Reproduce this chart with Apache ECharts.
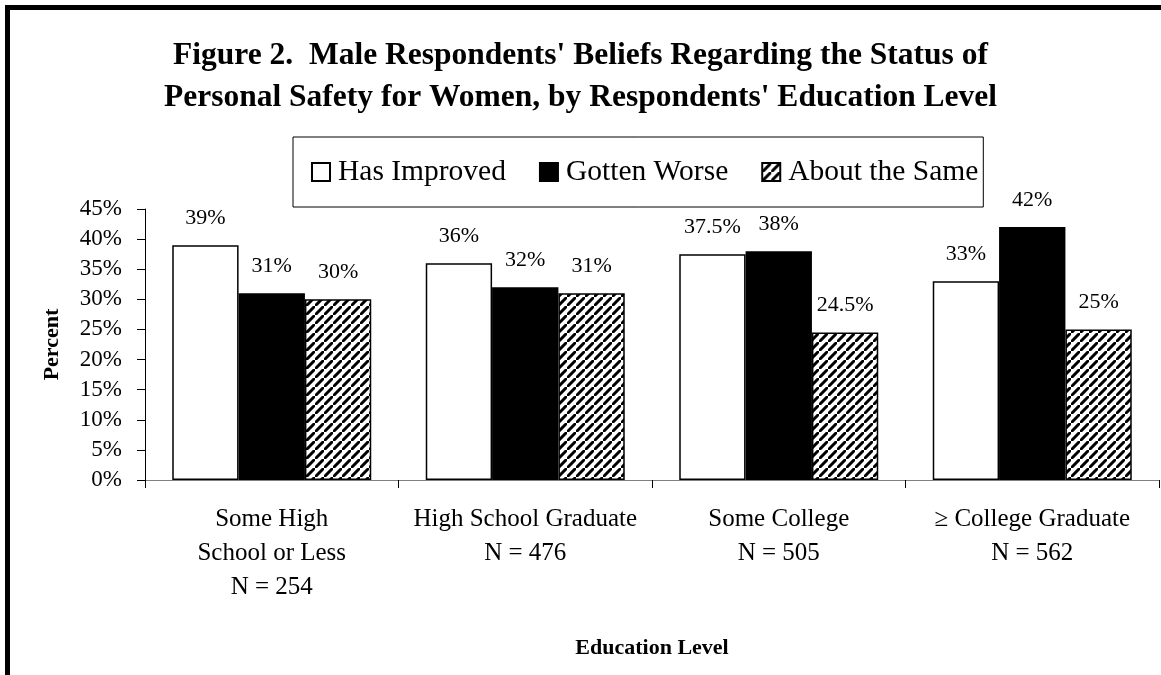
<!DOCTYPE html>
<html>
<head>
<meta charset="utf-8">
<script src="https://cdn.jsdelivr.net/npm/echarts@6/dist/echarts.min.js"></script>
<style>
html,body{margin:0;padding:0;background:#fff;}
#chart{width:1161px;height:675px;}
</style>
</head>
<body>
<div id="chart"></div>
<script>
const categories = [
  "Some High\nSchool or Less\nN = 254",
  "High School Graduate\nN = 476",
  "Some College\nN = 505",
  "\u2265 College Graduate\nN = 562"
];
const seriesNames = ["Has Improved", "Gotten Worse", "About the Same"];
const hasImproved = [39, 36, 37.5, 33];
const gottenWorse = [31, 32, 38, 42];
const aboutSame = [30, 31, 24.5, 25];
const yTicks = [0, 5, 10, 15, 20, 25, 30, 35, 40, 45];

const FONT = "'Liberation Serif', 'Times New Roman', serif";

// hatch pattern
const P = 9;
const pc = document.createElement('canvas');
pc.width = P; pc.height = P;
const pctx = pc.getContext('2d');
pctx.fillStyle = '#fff';
pctx.fillRect(0, 0, P, P);
pctx.strokeStyle = '#000';
pctx.lineWidth = 3;
pctx.beginPath();
pctx.moveTo(-2, P + 2); pctx.lineTo(P + 2, -2);
pctx.moveTo(-P - 2, 2); pctx.lineTo(2, -P - 2);
pctx.moveTo(P - 2, 2 * P + 2); pctx.lineTo(2 * P + 2, P - 2);
pctx.stroke();
const hatch = { image: pc, repeat: 'repeat' };

const chart = echarts.init(document.getElementById('chart'), null, { renderer: 'canvas' });

const labelCfg = {
  show: true,
  position: 'top',
  distance: 16,
  fontFamily: FONT,
  fontSize: 22,
  color: '#000',
  formatter: p => p.value + '%'
};

function mk(name, data, fill) {
  return {
    name: name,
    type: 'bar',
    data: data,
    barGap: '0%',
    barCategoryGap: '21.5%',
    itemStyle: { color: fill, borderColor: '#000', borderWidth: 1.5 },
    label: labelCfg,
    emphasis: { disabled: true }
  };
}

chart.setOption({
  animation: false,
  backgroundColor: '#fff',
  title: {
    text: "Figure 2.  Male Respondents' Beliefs Regarding the Status of\nPersonal Safety for Women, by Respondents' Education Level",
    left: 'center',
    top: 30,
    textStyle: {
      fontFamily: FONT,
      fontWeight: 'bold',
      fontSize: 31.5,
      lineHeight: 42,
      color: '#000'
    }
  },
  legend: {
    data: seriesNames,
    icon: 'rect',
    left: 293,
    top: 137,
    orient: 'horizontal',
    padding: [20, 5, 20, 18],
    borderColor: '#000',
    borderWidth: 1,
    itemWidth: 18,
    itemHeight: 18,
    itemGap: 33,
    selectedMode: false,
    textStyle: { fontFamily: FONT, fontSize: 29.5, color: '#000', padding: [0, 0, 0, 3] }
  },
  grid: { left: 145, right: 2, top: 209, bottom: 195, containLabel: false },
  xAxis: {
    type: 'category',
    data: categories,
    name: 'Education Level',
    nameLocation: 'middle',
    nameGap: 157,
    nameTextStyle: { fontFamily: FONT, fontWeight: 'bold', fontSize: 22, color: '#000' },
    axisLine: { lineStyle: { color: '#808080', width: 1 } },
    axisTick: { show: true, length: 8, lineStyle: { color: '#000' } },
    axisLabel: {
      fontFamily: FONT, fontSize: 25, color: '#000', lineHeight: 34, margin: 22, interval: 0
    }
  },
  yAxis: {
    type: 'value',
    min: 0,
    max: 45,
    interval: 5,
    name: 'Percent',
    nameLocation: 'middle',
    nameRotate: 90,
    nameGap: 82,
    nameTextStyle: { fontFamily: FONT, fontWeight: 'bold', fontSize: 22, color: '#000' },
    axisLine: { show: true, lineStyle: { color: '#000', width: 1 } },
    axisTick: { show: true, length: 8, lineStyle: { color: '#000' } },
    splitLine: { show: false },
    axisLabel: {
      fontFamily: FONT, fontSize: 23, color: '#000', margin: 23,
      formatter: v => (yTicks.indexOf(v) >= 0 ? v + '%' : '')
    }
  },
  series: [
    mk(seriesNames[0], hasImproved, '#fff'),
    mk(seriesNames[1], gottenWorse, '#000'),
    mk(seriesNames[2], aboutSame, hatch)
  ],
  graphic: [{
    type: 'rect',
    shape: { x: 7.5, y: 7.5, width: 1200, height: 720 },
    style: { fill: null, stroke: '#000', lineWidth: 5 },
    silent: true,
    z: 100
  }]
});
</script>
</body>
</html>
